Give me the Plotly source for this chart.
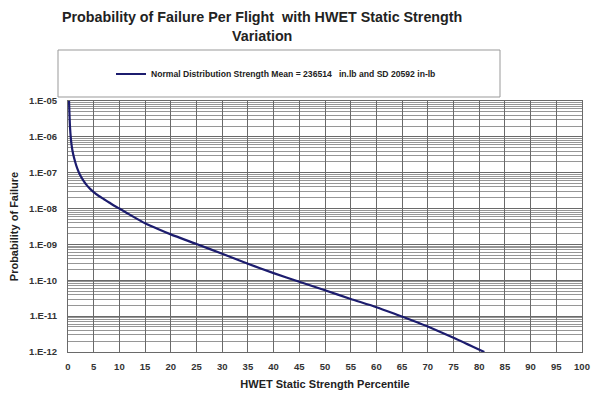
import plotly.graph_objects as go

percentile = [0.2, 0.4, 0.7, 1.0, 1.4, 1.8, 2.3, 3.0, 3.6, 4.3, 5, 6, 7, 8, 9, 10, 12.5, 15,
              17.5, 20, 25, 30, 35, 40, 45, 50, 55, 60, 64, 67, 70, 75, 81]
log_pf = [-5.0, -5.75, -6.23, -6.48, -6.70, -6.88, -7.05, -7.22, -7.34, -7.45, -7.54,
          -7.65, -7.74, -7.83, -7.92, -8.0, -8.21, -8.41, -8.57, -8.72, -8.99, -9.26,
          -9.54, -9.8, -10.04, -10.28, -10.52, -10.75, -10.96, -11.12, -11.29, -11.6, -12.0]
pf = [10 ** v for v in log_pf]

x_ticks = list(range(0, 101, 5))
y_tickvals = [1e-5, 1e-6, 1e-7, 1e-8, 1e-9, 1e-10, 1e-11, 1e-12]
y_ticktext = ["1.E-05", "1.E-06", "1.E-07", "1.E-08", "1.E-09", "1.E-10", "1.E-11", "1.E-12"]

FONT = "Liberation Sans, Arial, sans-serif"

fig = go.Figure()
fig.add_trace(go.Scatter(
    x=percentile, y=pf, mode="lines",
    line=dict(color="#1c1c6e", width=2.2, shape="spline", smoothing=0.6),
    name="<b>Normal Distribution Strength Mean = 236514   in.lb and SD 20592 in-lb</b>",
))

L, R, T, B = 68, 9, 101, 41
W, H = 591, 393
pw, ph = W - L - R, H - T - B

def px_x(p):
    return (p - L) / pw

def px_y(p):
    return (H - B - p) / ph

fig.add_shape(type="rect", xref="paper", yref="paper",
              x0=px_x(58), x1=px_x(500), y0=px_y(97), y1=px_y(50),
              line=dict(color="#999999", width=1), fillcolor="white")

fig.add_annotation(text="<b>Probability of Failure Per Flight  with HWET Static Strength<br>Variation</b>",
                   xref="paper", yref="paper", x=px_x(262), y=px_y(26), xanchor="center",
                   yanchor="middle", showarrow=False, align="center",
                   font=dict(size=14.3, color="#222222"))

fig.update_layout(
    width=W, height=H,
    margin=dict(l=L, r=R, t=T, b=B),
    paper_bgcolor="white", plot_bgcolor="white",
    font=dict(family=FONT, color="#222222"),
    showlegend=True,
    legend=dict(x=px_x(111), y=px_y(74), xanchor="left", yanchor="middle",
                bgcolor="rgba(0,0,0,0)", borderwidth=0, itemwidth=30,
                font=dict(size=8.6, color="#222222")),
    xaxis=dict(range=[0, 100], tickvals=x_ticks, ticktext=[f"<b>{v}</b>" for v in x_ticks],
               showgrid=True, gridcolor="#6a6a6a", gridwidth=1, automargin=False,
               showline=True, linecolor="#6a6a6a", mirror=True,
               ticks="outside", ticklen=6, tickcolor="rgba(0,0,0,0)",
               tickfont=dict(size=9.5, color="#333333"), zeroline=False,
               title=dict(text="<b>HWET Static Strength Percentile</b>", standoff=8,
                          font=dict(size=11, color="#222222"))),
    yaxis=dict(type="log", range=[-12, -5], tickvals=y_tickvals,
               ticktext=[f"<b>{t}</b>" for t in y_ticktext], automargin=False,
               showgrid=True, gridcolor="#6a6a6a", gridwidth=1,
               minor=dict(showgrid=True, gridcolor="#969696", gridwidth=1, dtick="D1"),
               showline=True, linecolor="#6a6a6a", mirror=True,
               ticks="outside", ticklen=8, tickcolor="rgba(0,0,0,0)",
               tickfont=dict(size=9.5, color="#333333"), zeroline=False,
               title=dict(text="<b>Probability of Failure</b>", standoff=8,
                          font=dict(size=11, color="#222222"))),
)

fig.write_html("out.html")
